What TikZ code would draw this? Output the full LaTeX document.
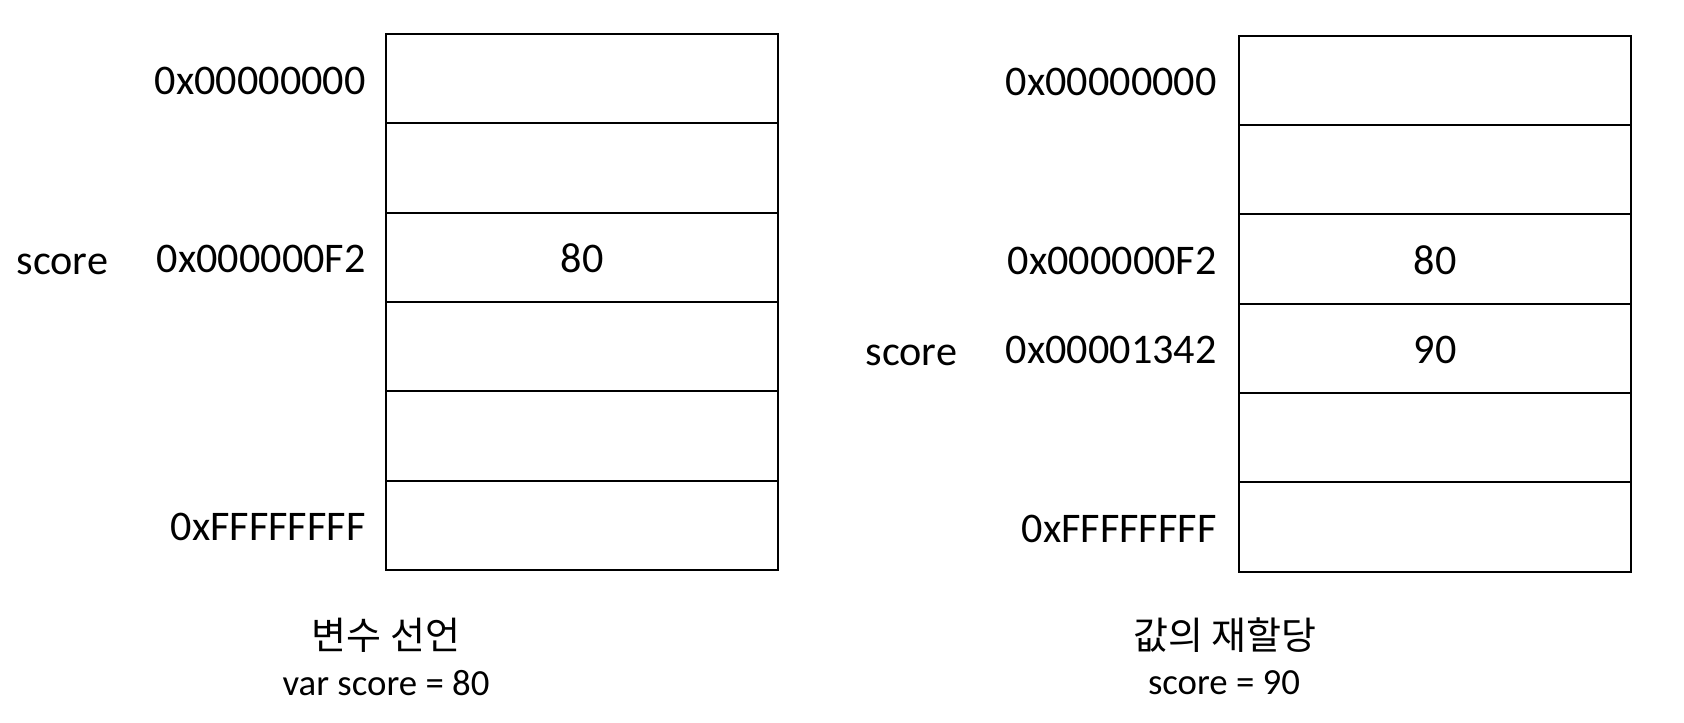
\documentclass[tikz,border=0pt]{standalone}
\usepackage{fontspec}
\setmainfont{Carlito}
\newfontfamily\kofont{Noto Sans CJK KR}
\usetikzlibrary{positioning}

\begin{document}
\begin{tikzpicture}[x=0.5pt,y=-0.5pt,
  cell/.style={draw,line width=1pt,minimum width=196pt,minimum height=44.665pt,inner sep=0pt},
  addr/.style={inner sep=0pt,text height=13.5pt,text depth=0pt,yshift=-1pt,font=\fontsize{21.1}{25}\selectfont},
  caption/.style={inner sep=0pt,font=\fontsize{18.4}{22}\selectfont},
  title/.style={inner sep=0pt,font=\kofont\fontsize{19}{23}\selectfont}]
  \useasboundingbox (0,0) rectangle (1684,722);
  % left stack: declaration
  \foreach \i in {0,...,5}
    \node[cell] (L\i) at (582,{78.67+89.33*\i}) {};
  \node[addr] (Lv) at (L2.center) {80};
  \node[addr,left=9.5pt of L0] (La0) {0x00000000};
  \node[addr,left=9.5pt of L2] (La2) {0x000000F2};
  \node[addr,left=9.5pt of L5] (La5) {0xFFFFFFFF};
  \node[addr,left=24pt of La2] (Ls) {score};
  \node[title] (Lt) at (386,635) {변수 선언};
  \node[caption] (Lc) at (386,683) {var score = 80};
  % right stack: reassignment
  \foreach \i in {0,...,5}
    \node[cell] (R\i) at (1435,{80.5+89.33*\i}) {};
  \node[addr] (Rv2) at (R2.center) {80};
  \node[addr] (Rv3) at (R3.center) {90};
  \node[addr,left=10.5pt of R0] (Ra0) {0x00000000};
  \node[addr,left=10.5pt of R2] (Ra2) {0x000000F2};
  \node[addr,left=10.5pt of R3] (Ra3) {0x00001342};
  \node[addr,left=10.5pt of R5] (Ra5) {0xFFFFFFFF};
  \node[addr,left=24pt of Ra3] (Rs) {score};
  \node[title] (Rt) at (1225,635) {값의 재할당};
  \node[caption] (Rc) at (1224,683) {score = 90};
\end{tikzpicture}
\end{document}
